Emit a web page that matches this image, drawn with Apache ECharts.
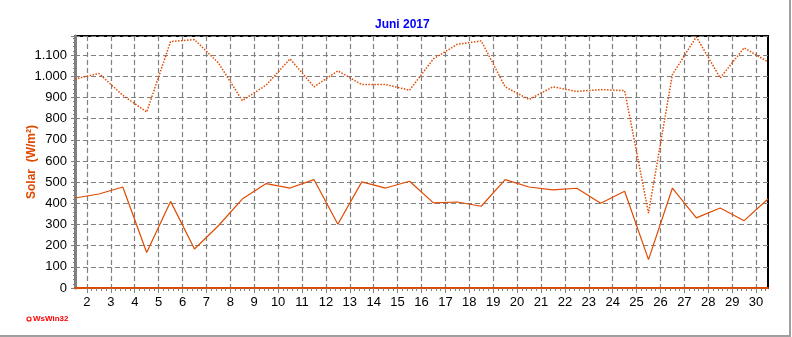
<!DOCTYPE html>
<html>
  <head>
    <meta charset="utf-8" />
    <title>Solar Juni 2017</title>
    <script src="https://cdn.jsdelivr.net/npm/echarts@6/dist/echarts.min.js"></script>
    <style>
      html, body { margin: 0; padding: 0; background: #fff; }
    </style>
  </head>
  <body>
    <div id="main" style="width: 792px; height: 337px;"></div>
    <script>
      // Tage im Juni
      var days = [1, 2, 3, 4, 5, 6, 7, 8, 9, 10, 11, 12, 13, 14, 15,
        16, 17, 18, 19, 20, 21, 22, 23, 24, 25, 26, 27, 28, 29, 30]
      // Solar Maximum (gepunktet)
      var solarMax = [987, 1013, 910, 831, 1164, 1173, 1063, 885, 958, 1082,
        950, 1025, 961, 961, 934, 1082, 1151, 1167, 950, 890,
        950, 928, 937, 932, 354, 1008, 1186, 992, 1134, 1068]
      // Solar Mittelwert (durchgezogen)
      var solarAvg = [425, 444, 477, 168, 409, 184, 294, 420, 493, 472,
        512, 301, 501, 472, 504, 402, 406, 386, 512, 477,
        463, 471, 400, 457, 134, 472, 331, 378, 318, 420]
      // Beschriftung x-Achse
      var xTicks = [2, 3, 4, 5, 6, 7, 8, 9, 10, 11, 12, 13, 14, 15, 16,
        17, 18, 19, 20, 21, 22, 23, 24, 25, 26, 27, 28, 29, 30]

      var lineColor = '#e04a00'
      var gridColor = '#808080'

      // Messwert liegt in der Mitte des Tages
      function toPoints(vals) {
        return days.map(function (d, i) { return [d + 0.5, vals[i]] })
      }
      // kleine Striche, 5 pro Tag
      var minorX = []
      for (var t = 2; t <= 30.4; t += 0.2) minorX.push(Math.round(t * 10) / 10)

      function fmtY(v) {
        if (v % 100 !== 0) return ''
        if (v >= 1000) {
          var r = String(v % 1000)
          while (r.length < 3) r = '0' + r
          return Math.floor(v / 1000) + '.' + r
        }
        return String(v)
      }

      var myChart = echarts.init(document.getElementById('main'))
      var option = {
        animation: false,
        backgroundColor: '#fff',
        title: {
          text: 'Juni 2017',
          left: 370,
          top: 14,
          textStyle: { color: '#0000ff', fontSize: 12, fontWeight: 'bold', fontFamily: 'Liberation Sans' }
        },
        grid: {
          left: 75, right: 24, top: 36, bottom: 49,
          show: true, borderColor: '#000', borderWidth: 2
        },
        xAxis: [
          {
            type: 'value',
            min: 1.5,
            max: 30.5,
            axisLine: { onZero: false, lineStyle: { color: lineColor, width: 2 } },
            axisTick: { customValues: xTicks, length: 5, lineStyle: { color: gridColor } },
            axisLabel: {
              customValues: xTicks, color: '#000', fontSize: 13,
              fontFamily: 'Liberation Sans', margin: 8
            },
            splitLine: { show: true, lineStyle: { color: gridColor, type: [5, 3], width: 1.2 } }
          },
          {
            type: 'value',
            min: 1.5,
            max: 30.5,
            position: 'bottom',
            axisLine: { show: false },
            axisLabel: { show: false },
            axisTick: { customValues: minorX, length: 3, lineStyle: { color: gridColor } },
            splitLine: { show: false }
          }
        ],
        yAxis: {
          type: 'value',
          min: 0,
          max: 1190,
          interval: 100,
          name: 'Solar  (W/m²)',
          nameLocation: 'middle',
          nameRotate: 90,
          nameGap: 37,
          nameMoveOverlap: false,
          nameTextStyle: { color: lineColor, fontSize: 12, fontWeight: 'bold', fontFamily: 'Liberation Sans' },
          axisLine: { show: true, lineStyle: { color: gridColor, width: 3 } },
          axisTick: { show: true, length: 4, lineStyle: { color: gridColor } },
          minorTick: { show: true, splitNumber: 5, length: 2, lineStyle: { color: gridColor } },
          axisLabel: {
            color: '#000', fontSize: 13, fontFamily: 'Liberation Sans', margin: 8,
            formatter: fmtY, showMaxLabel: false
          },
          splitLine: { show: true, lineStyle: { color: gridColor, type: [5, 3], width: 1.2 } }
        },
        series: [
          {
            name: 'Max',
            type: 'line',
            data: toPoints(solarMax),
            symbol: 'none',
            lineStyle: { color: lineColor, width: 1.5, type: 'dotted' }
          },
          {
            name: 'Mittel',
            type: 'line',
            data: toPoints(solarAvg),
            symbol: 'none',
            lineStyle: { color: lineColor, width: 1.2 }
          }
        ],
        graphic: [
          {
            type: 'rect',
            shape: { x: -2, y: -2, width: 792, height: 338 },
            style: { fill: 'none', stroke: '#a0a0a0', lineWidth: 2 }
          },
          {
            type: 'circle',
            shape: { cx: 29, cy: 319, r: 2 },
            style: { fill: 'none', stroke: '#ff0000', lineWidth: 1.2 }
          },
          {
            type: 'text',
            left: 33,
            top: 315,
            style: { text: 'WsWin32', fill: '#ff0000', font: 'bold 8px "Liberation Sans"' }
          }
        ]
      }
      myChart.setOption(option)
    </script>
  </body>
</html>
